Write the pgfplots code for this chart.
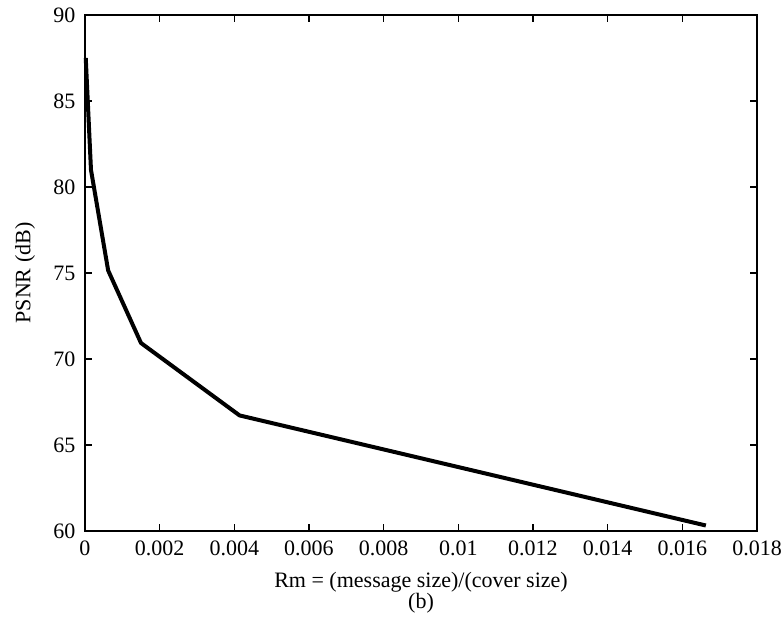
\documentclass[border=0pt]{standalone}
\usepackage{pgfplots}
\pgfplotsset{compat=1.18}
\usepackage{fontspec}
\setmainfont{Liberation Serif}
\begin{document}
\fontsize{11pt}{13pt}\selectfont
\begin{tikzpicture}
\useasboundingbox (-42.5pt,-51.5pt) rectangle (348.5pt,265.5pt);
\begin{axis}[
  at={(0pt,0pt)}, anchor=origin,
  scale only axis, width=336pt, height=258pt,
  xmin=0, xmax=0.018, ymin=60, ymax=90,
  xtick={0,0.002,0.004,0.006,0.008,0.01,0.012,0.014,0.016,0.018},
  xticklabels={0,0.002,0.004,0.006,0.008,0.01,0.012,0.014,0.016,0.018},
  ytick={60,65,70,75,80,85,90},
  scaled x ticks=false,
  /pgf/number format/assume math mode=true,
  tick align=inside, major tick length=3.5pt,
  tick style={black, line width=0.6pt},
  axis line style={black, line width=0.7pt},
  ticklabel style={font=\fontsize{11pt}{13pt}\selectfont},
  xticklabel style={yshift=-1pt},
  yticklabel style={xshift=-1pt},
  xlabel={Rm = (message size)/(cover size)},
  ylabel={PSNR (dB)},
  label style={font=\fontsize{11pt}{13pt}\selectfont},
  xlabel style={at={(axis description cs:0.5,0)}, anchor=center, yshift=-25.5pt},
  ylabel style={at={(axis description cs:0,0.5)}, anchor=center, rotate=0, yshift=30pt},
  clip=false,
]
\addplot[black, line width=2pt, line join=round] coordinates {
  (0.00002,87.5) (0.00016,81.0) (0.00062,75.15) (0.0015,70.93) (0.00414,66.72) (0.01663,60.32)
};
\node[font=\fontsize{11pt}{13pt}\selectfont] at (rel axis cs:0.5,0) [yshift=-36pt] {(b)};
\end{axis}
\end{tikzpicture}
\end{document}
